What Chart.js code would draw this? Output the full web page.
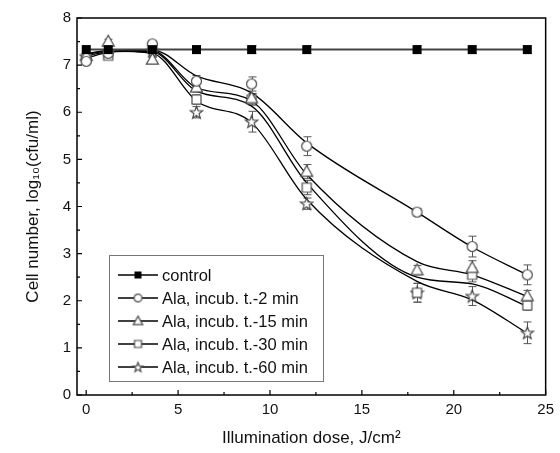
<!DOCTYPE html>
<html lang="en">
<head>
<meta charset="UTF-8" />
<title>Cell number vs illumination dose</title>
<script src="https://cdn.jsdelivr.net/npm/chart.js"></script>
<style>
  html, body { margin: 0; padding: 0; background: #fff; }
  #wrap { width: 560px; height: 453px; }
</style>
</head>
<body>
<div id="wrap"><canvas id="chart"></canvas></div>
<script>
// Data
const doses = [0, 1.2, 3.6, 6, 9, 12, 18, 21, 24];
const seriesNames = [
  "control",
  "Ala, incub. t.-2 min",
  "Ala, incub. t.-15 min",
  "Ala, incub. t.-30 min",
  "Ala, incub. t.-60 min"
];
// measured points
const control = [7.33, 7.33, 7.33, 7.33, 7.33, 7.33, 7.33, 7.33, 7.33];
const ala2 = [7.08, 7.25, 7.45, 6.66, 6.6, 5.28, 3.88, 3.15, 2.55];
const ala15 = [7.2, 7.5, 7.12, 6.53, 6.3, 4.74, 2.65, 2.7, 2.1];
const ala30 = [7.15, 7.2, 7.35, 6.27, 6.27, 4.4, 2.17, 2.55, 1.9];
const ala60 = [7.18, 7.28, 7.3, 6.0, 5.8, 4.06, 2.17, 2.1, 1.32];

// error bars (+/-)
const errControl = [0.08, 0.08, 0.08, 0.08, 0.08, 0.08, 0.08, 0.08, 0.08];
const err2 = [0.05, 0.05, 0.05, 0.12, 0.15, 0.2, 0.08, 0.22, 0.21];
const err15 = [0.05, 0.05, 0.05, 0.1, 0.1, 0.15, 0.1, 0.15, 0.12];
const err30 = [0.05, 0.05, 0.05, 0.1, 0.12, 0.15, 0.2, 0.15, 0.1];
const err60 = [0.05, 0.05, 0.05, 0.12, 0.22, 0.12, 0.2, 0.2, 0.23];

// smoothed curves as drawn in the figure (read at the same doses)
const fit2 = [7.15, 7.27, 7.32, 6.77, 6.41, 5.35, 3.88, 3.14, 2.55];
const fit15 = [7.2, 7.28, 7.3, 6.52, 6.24, 4.68, 2.83, 2.55, 2.09];
const fit30 = [7.22, 7.3, 7.28, 6.45, 6.13, 4.5, 2.5, 2.36, 1.88];
const fit60 = [7.25, 7.3, 7.25, 6.24, 5.78, 4.15, 2.41, 2.02, 1.31];

const xTicks = [0, 5, 10, 15, 20, 25];
const xMinor = [2.5, 7.5, 12.5, 17.5, 22.5];
const yTicks = [0, 1, 2, 3, 4, 5, 6, 7, 8];
const yMinor = [0.5, 1.5, 2.5, 3.5, 4.5, 5.5, 6.5, 7.5];

const FONT = "'Liberation Sans', Arial, sans-serif";

// marker images
function marker(kind, s) {
  const c = document.createElement("canvas");
  c.width = 15; c.height = 15;
  const g = c.getContext("2d");
  const cx = 7.5, cy = 7.5;
  g.lineWidth = 1.2;
  g.strokeStyle = "#4a4a4a";
  g.fillStyle = "#fff";
  g.beginPath();
  if (kind === "filled") {
    g.fillStyle = "#000";
    g.fillRect(cx - 4.5 * s, cy - 4.5 * s, 9 * s, 9 * s);
    return c;
  } else if (kind === "circle") {
    g.arc(cx, cy, 5 * s, 0, Math.PI * 2);
  } else if (kind === "triangle") {
    g.moveTo(cx, cy - 6.2 * s);
    g.lineTo(cx + 6 * s, cy + 4.6 * s);
    g.lineTo(cx - 6 * s, cy + 4.6 * s);
    g.closePath();
  } else if (kind === "square") {
    g.rect(cx - 4.5 * s, cy - 4.5 * s, 9 * s, 9 * s);
  } else if (kind === "star") {
    for (let k = 0; k < 10; k++) {
      const r = (k % 2 === 0 ? 6.5 : 2.7) * s;
      const a = -Math.PI / 2 + k * Math.PI / 5;
      const px = cx + r * Math.cos(a), py = cy + r * Math.sin(a) + 0.5;
      if (k === 0) g.moveTo(px, py); else g.lineTo(px, py);
    }
    g.closePath();
  }
  g.fill();
  g.stroke();
  return c;
}

const kinds = ["filled", "circle", "triangle", "square", "star"];
const values = [control, ala2, ala15, ala30, ala60];
const errors = [errControl, err2, err15, err30, err60];
const curves = [control, fit2, fit15, fit30, fit60];
const markers = kinds.map(k => marker(k, 1));
const legendMarkers = kinds.map(k => marker(k, 0.78));

const datasets = [];
// smooth curves first (drawn under markers)
curves.forEach((vals, d) => {
  datasets.push({
    label: seriesNames[d] + " curve",
    data: doses.map((x, i) => ({ x: x, y: vals[i] })),
    borderColor: d === 0 ? "#444" : "#000",
    borderWidth: d === 0 ? 2 : 1.3,
    cubicInterpolationMode: d === 0 ? "default" : "monotone",
    tension: d === 0 ? 0 : 0.4,
    pointRadius: 0,
    fill: false,
    order: 2
  });
});
// measured points
values.forEach((vals, d) => {
  datasets.push({
    label: seriesNames[d],
    data: doses.map((x, i) => ({ x: x, y: vals[i] })),
    showLine: false,
    pointStyle: markers[d],
    pointRadius: 5,
    order: d === 0 ? 0 : 1
  });
});

const decorations = {
  id: "decorations",
  beforeDatasetsDraw(chart) {
    const ctx = chart.ctx, xs = chart.scales.x, ys = chart.scales.y;
    ctx.save();
    ctx.strokeStyle = "#555";
    ctx.lineWidth = 1;
    values.forEach((vals, d) => {
      vals.forEach((v, i) => {
        const px = Math.round(xs.getPixelForValue(doses[i])) + 0.5;
        const top = ys.getPixelForValue(v + errors[d][i]);
        const bot = ys.getPixelForValue(v - errors[d][i]);
        ctx.beginPath();
        ctx.moveTo(px, top); ctx.lineTo(px, bot);
        ctx.moveTo(px - 4, top); ctx.lineTo(px + 4, top);
        ctx.moveTo(px - 4, bot); ctx.lineTo(px + 4, bot);
        ctx.stroke();
      });
    });
    ctx.restore();
  },
  afterDraw(chart) {
    const ctx = chart.ctx, a = chart.chartArea;
    const xs = chart.scales.x, ys = chart.scales.y;
    ctx.save();
    // frame
    ctx.strokeStyle = "#000";
    ctx.lineWidth = 1.5;
    ctx.strokeRect(a.left, a.top, a.right - a.left, a.bottom - a.top);
    // inward ticks
    ctx.lineWidth = 1.2;
    ctx.beginPath();
    yTicks.forEach(v => { const p = ys.getPixelForValue(v); ctx.moveTo(a.left, p); ctx.lineTo(a.left + 5, p); });
    yMinor.forEach(v => { const p = ys.getPixelForValue(v); ctx.moveTo(a.left, p); ctx.lineTo(a.left + 3, p); });
    xTicks.forEach(v => { const p = xs.getPixelForValue(v); ctx.moveTo(p, a.bottom); ctx.lineTo(p, a.bottom - 5); });
    xMinor.forEach(v => { const p = xs.getPixelForValue(v); ctx.moveTo(p, a.bottom); ctx.lineTo(p, a.bottom - 3); });
    ctx.stroke();

    // legend box
    const lx = 109, ly = 255, lw = 214, lh = 126;
    ctx.fillStyle = "#fff";
    ctx.fillRect(lx, ly, lw, lh);
    ctx.strokeStyle = "#777";
    ctx.lineWidth = 1;
    ctx.strokeRect(lx + 0.5, ly + 0.5, lw, lh);
    ctx.font = "16.5px " + FONT;
    ctx.textBaseline = "middle";
    ctx.textAlign = "left";
    seriesNames.forEach((name, d) => {
      const y = ly + 20 + d * 23;
      ctx.strokeStyle = "#000";
      ctx.lineWidth = 1.3;
      ctx.beginPath();
      ctx.moveTo(lx + 9, y); ctx.lineTo(lx + 49, y);
      ctx.stroke();
      const m = legendMarkers[d];
      ctx.drawImage(m, lx + 29 - m.width / 2, y - m.height / 2);
      ctx.fillStyle = "#111";
      ctx.fillText(name, lx + 53, y + 1);
    });
    ctx.restore();
  }
};

new Chart(document.getElementById("chart"), {
  type: "line",
  data: { datasets: datasets },
  options: {
    responsive: true,
    maintainAspectRatio: false,
    animation: false,
    layout: { padding: { top: 18, right: 8, left: 0, bottom: 0 } },
    plugins: { legend: { display: false }, tooltip: { enabled: false } },
    scales: {
      x: {
        type: "linear",
        min: -0.5,
        max: 25,
        afterBuildTicks: s => { s.ticks = xTicks.map(v => ({ value: v })); },
        afterFit: s => { s.height = 58; },
        grid: { display: false, drawTicks: false },
        border: { display: false },
        ticks: { padding: 6, color: "#111", font: { family: FONT, size: 15 } },
        title: {
          display: true,
          text: "Illumination dose, J/cm²",
          color: "#111",
          font: { family: FONT, size: 17 },
          padding: { top: 0, bottom: 4 }
        }
      },
      y: {
        min: 0,
        max: 8,
        afterBuildTicks: s => { s.ticks = yTicks.map(v => ({ value: v })); },
        afterFit: s => { s.width = 77; },
        grid: { display: false, drawTicks: false },
        border: { display: false },
        ticks: { padding: 6, color: "#111", font: { family: FONT, size: 15 } },
        title: {
          display: true,
          text: "Cell number, log₁₀(cfu/ml)",
          color: "#111",
          font: { family: FONT, size: 17 },
          padding: { top: 23, bottom: 0 }
        }
      }
    }
  },
  plugins: [decorations]
});
</script>
</body>
</html>
